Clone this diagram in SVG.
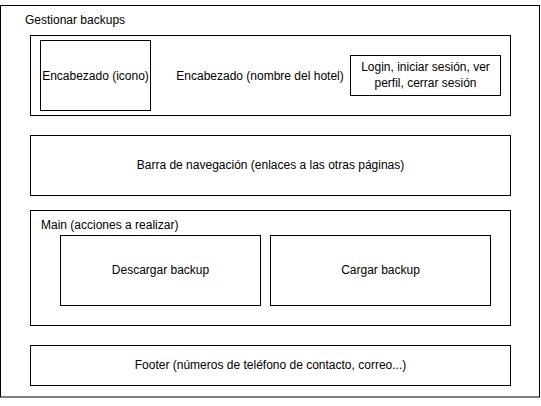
<svg xmlns="http://www.w3.org/2000/svg" width="541" height="406" viewBox="0 0 541 406">
<style>
rect{fill:#fff;stroke:#000;stroke-width:1}
text{font-family:"Liberation Sans",Arial,sans-serif;font-size:12px;fill:#000}
.c{text-anchor:middle}
</style>
<rect x="0" y="0" width="541" height="406" style="stroke:none"/>
<g id="page">
<rect x="0.5" y="5.5" width="539" height="391.5"/>
<text x="25" y="24">Gestionar backups</text>
</g>
<g id="header">
<rect x="30.5" y="35.5" width="480" height="80"/>
<text class="c" x="260" y="79.5">Encabezado (nombre del hotel)</text>
</g>
<g id="icon">
<rect x="40.5" y="40.5" width="110" height="70"/>
<text class="c" x="95.5" y="79.5">Encabezado (icono)</text>
</g>
<g id="login">
<rect x="350.5" y="55.5" width="150" height="40"/>
<text class="c" x="425.5" y="70.5">Login, iniciar sesión, ver</text>
<text class="c" x="425.5" y="86.5">perfil, cerrar sesión</text>
</g>
<g id="nav">
<rect x="30.5" y="135.5" width="480" height="60"/>
<text class="c" x="270.5" y="168.5">Barra de navegación (enlaces a las otras páginas)</text>
</g>
<g id="main">
<rect x="30.5" y="210.5" width="480" height="115"/>
<text x="41" y="228.5">Main (acciones a realizar)</text>
</g>
<g id="descargar">
<rect x="60.5" y="235.5" width="200" height="70"/>
<text class="c" x="160.5" y="273.5">Descargar backup</text>
</g>
<g id="cargar">
<rect x="270.5" y="235.5" width="220" height="70"/>
<text class="c" x="380.5" y="273.5">Cargar backup</text>
</g>
<g id="footer">
<rect x="30.5" y="345.5" width="480" height="40"/>
<text class="c" x="270.5" y="368.5">Footer (números de teléfono de contacto, correo...)</text>
</g>
<g id="connectors"/>
</svg>
